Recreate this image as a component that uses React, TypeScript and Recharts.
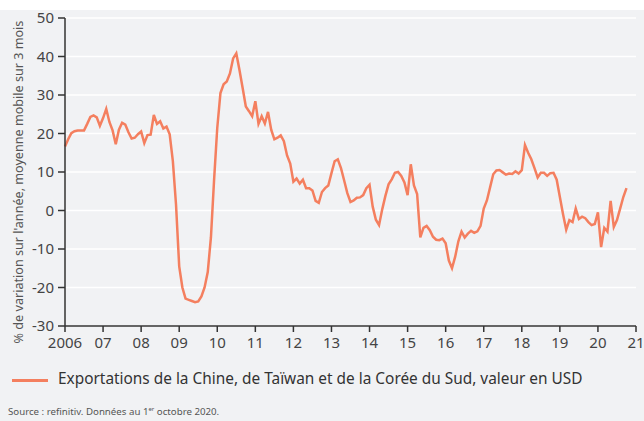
import React from 'react';
import { LineChart, Line, XAxis, YAxis, CartesianGrid } from 'recharts';

// monthly values, % change y/y, 3-month moving average
const y2006 = [16.6, 18.5, 20.1, 20.6, 20.8, 20.8, 20.8, 22.5, 24.3, 24.7, 24.2, 22];
const y2007 = [24, 26.4, 23, 20.8, 17.2, 21, 22.8, 22.3, 20.3, 18.7, 18.9, 19.8];
const y2008 = [20.5, 17.5, 19.6, 19.7, 24.8, 22.5, 23.2, 21.3, 21.8, 19.8, 12.8, 1.5];
const y2009 = [-14.5, -20, -22.9, -23.2, -23.5, -23.8, -23.6, -22.3, -20, -16, -7, 8];
const y2010 = [21.5, 30.5, 32.8, 33.5, 35.6, 39.5, 40.8, 36.5, 31.8, 27, 25.8, 24.5];
const y2011 = [28.4, 22.5, 24.5, 22.6, 25.6, 21, 18.5, 18.9, 19.5, 18, 14.3, 12.2];
const y2012 = [7.5, 8.3, 7, 8, 5.8, 5.8, 5.2, 2.5, 2, 4.8, 5.8, 6.5];
const y2013 = [9.7, 12.8, 13.3, 11, 7.8, 4.5, 2.2, 2.6, 3.3, 3.4, 4, 5.8];
const y2014 = [6.7, 1, -2.4, -3.8, 0.3, 3.8, 6.8, 8.1, 9.8, 10, 9, 7.3];
const y2015 = [4, 12, 6.5, 4.3, -7, -4.5, -4, -5.1, -6.8, -7.6, -7.7, -7.3];
const y2016 = [-8.5, -13, -15, -12, -8, -5.5, -7, -6, -5.3, -5.8, -5.4, -4];
const y2017 = [0.5, 2.6, 6, 9.4, 10.4, 10.5, 9.9, 9.3, 9.6, 9.5, 10.2, 9.6];
const y2018 = [10.5, 17, 15, 13.3, 11, 8.6, 9.8, 9.8, 9, 9.7, 9.8, 8];
const y2019 = [3.5, -1, -5, -2.5, -3, 0.5, -2.2, -1.6, -2, -3, -3.8, -3.5];
const y2020 = [-0.5, -9.5, -4.5, -5.5, 2.5, -4.3, -2.5, 0.5, 3.5, 5.8];

const years = [2006, 2007, 2008, 2009, 2010, 2011, 2012, 2013, 2014, 2015, 2016, 2017, 2018, 2019, 2020];
const values = [y2006, y2007, y2008, y2009, y2010, y2011, y2012, y2013, y2014, y2015, y2016, y2017, y2018, y2019, y2020];

const xTicks = [2006, 2007, 2008, 2009, 2010, 2011, 2012, 2013, 2014, 2015, 2016, 2017, 2018, 2019, 2020, 2021];
const yTicks = [-30, -20, -10, 0, 10, 20, 30, 40, 50];

const data = years.flatMap((yr, i) => values[i].map((v, m) => ({ t: yr + m / 12, v })));

const LINE = '#f47f5f';
const BG = '#f1f2f4';
const FONT = '"Noto Sans", sans-serif';

const fmtYear = (t: number) => (t === 2006 ? '2006' : String(t % 100).padStart(2, '0'));

export default function App() {
  return (
    <div style={{ position: 'relative', width: 644, height: 421, background: '#fff', fontFamily: FONT }}>
      <style>{'body{margin:0}'}</style>
      <div style={{ position: 'absolute', left: 0, top: 10, width: 644, height: 411, background: BG }} />
      <div style={{ position: 'absolute', left: 0, top: 0 }}>
        <LineChart width={644} height={360} data={data} margin={{ top: 18, right: 8, bottom: 0, left: 0 }}>
          <CartesianGrid horizontal vertical={false} stroke="#ffffff" strokeWidth={1.5} />
          <XAxis
            dataKey="t"
            type="number"
            domain={[2006, 2021]}
            ticks={xTicks}
            tickFormatter={fmtYear}
            interval={0}
            height={34}
            tickSize={6}
            tickMargin={5}
            stroke="#333"
            axisLine={{ stroke: '#333', strokeWidth: 1.5 }}
            tickLine={{ stroke: '#333', strokeWidth: 1.5 }}
            tick={{ fill: '#444', fontSize: 15, fontFamily: FONT }}
          />
          <YAxis
            type="number"
            domain={[-30, 50]}
            ticks={yTicks}
            interval={0}
            width={65}
            tickSize={7}
            tickMargin={4}
            axisLine={{ stroke: '#333', strokeWidth: 1.5 }}
            tickLine={{ stroke: '#333', strokeWidth: 1.5 }}
            tick={{ fill: '#444', fontSize: 15, fontFamily: FONT }}
          />
          <Line
            dataKey="v"
            type="linear"
            stroke={LINE}
            strokeWidth={2.5}
            dot={false}
            isAnimationActive={false}
          />
        </LineChart>
      </div>
      <div
        style={{
          position: 'absolute',
          left: 18,
          top: 182,
          transform: 'translate(-50%, -50%) rotate(-90deg)',
          whiteSpace: 'nowrap',
          fontSize: 12.6,
          color: '#555',
        }}
      >
        % de variation sur l'année, moyenne mobile sur 3 mois
      </div>
      <div style={{ position: 'absolute', left: 12, top: 379, width: 36, height: 3, background: LINE }} />
      <div style={{ position: 'absolute', left: 58, top: 368, fontSize: 15.4, color: '#333', whiteSpace: 'nowrap' }}>
        Exportations de la Chine, de Taïwan et de la Corée du Sud, valeur en USD
      </div>
      <div style={{ position: 'absolute', left: 8, top: 405, fontSize: 9.7, color: '#555', whiteSpace: 'nowrap' }}>
        Source : refinitiv. Données au 1<sup style={{ fontSize: 6 }}>er</sup> octobre 2020.
      </div>
    </div>
  );
}
